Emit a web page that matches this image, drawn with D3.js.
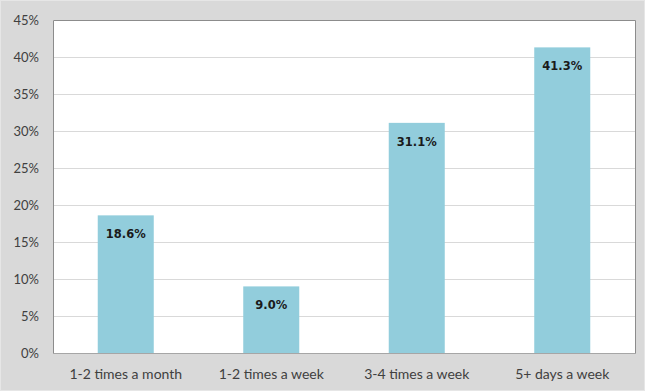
<!DOCTYPE html>
<html>
<head>
<meta charset="utf-8">
<script src="https://cdn.jsdelivr.net/npm/d3@7/dist/d3.min.js"></script>
<style>
  html, body { margin: 0; padding: 0; background: #d9d9d9; }
  svg { display: block; }
</style>
</head>
<body>
<svg id="chart" width="645" height="391"></svg>
<script>
// Share of respondents by frequency
const categories = ["1-2 times a month", "1-2 times a week", "3-4 times a week", "5+ days a week"];
const values = [18.6, 9.0, 31.1, 41.3];
const yTicks = [0, 5, 10, 15, 20, 25, 30, 35, 40, 45];

const W = 645, H = 391;
const plot = { left: 53, top: 20, right: 635, bottom: 353 };

const svg = d3.select("#chart");

// outer frame
svg.append("rect").attr("x", 0).attr("y", 0).attr("width", W).attr("height", H)
  .attr("fill", "#d9d9d9");
svg.append("rect").attr("x", 0.5).attr("y", 0.5).attr("width", W - 1).attr("height", H - 1)
  .attr("fill", "none").attr("stroke", "#e6e6e6");

const x = d3.scaleBand()
  .domain(categories)
  .range([plot.left, plot.right])
  .paddingInner(0.615)
  .paddingOuter(0.3075);

const y = d3.scaleLinear().domain([0, 45]).range([plot.bottom, plot.top]);

// plot area
svg.append("rect")
  .attr("x", plot.left).attr("y", plot.top)
  .attr("width", plot.right - plot.left).attr("height", plot.bottom - plot.top)
  .attr("fill", "#ffffff");

// gridlines
svg.append("g")
  .selectAll("line")
  .data(yTicks.filter(t => t > 0 && t < 45))
  .join("line")
  .attr("x1", plot.left).attr("x2", plot.right)
  .attr("y1", d => Math.round(y(d)) + 0.5).attr("y2", d => Math.round(y(d)) + 0.5)
  .attr("stroke", "#d9d9d9").attr("stroke-width", 1);

// bars
svg.append("g")
  .selectAll("rect")
  .data(values)
  .join("rect")
  .attr("x", (d, i) => x(categories[i]))
  .attr("y", d => y(d))
  .attr("width", x.bandwidth())
  .attr("height", d => y(0) - y(d))
  .attr("fill", "#92cddc");

// plot border
svg.append("path")
  .attr("d", `M${plot.left + 0.5},${plot.bottom + 0.5} V${plot.top + 0.5} H${plot.right + 0.5} V${plot.bottom + 0.5} Z`)
  .attr("fill", "none").attr("stroke", "#8c8c8c").attr("stroke-width", 1);
svg.append("line")
  .attr("x1", plot.left).attr("x2", plot.right + 1)
  .attr("y1", plot.bottom + 0.5).attr("y2", plot.bottom + 0.5)
  .attr("stroke", "#a6a6a6");

// value labels
svg.append("g")
  .selectAll("text")
  .data(values)
  .join("text")
  .attr("x", (d, i) => x(categories[i]) + x.bandwidth() / 2)
  .attr("y", d => y(d) + 23)
  .attr("text-anchor", "middle")
  .attr("font-family", "DejaVu Sans, Verdana, sans-serif")
  .attr("font-weight", "bold")
  .attr("font-size", "11.5px")
  .attr("fill", "#1a1a1a")
  .text(d => d.toFixed(1) + "%");

// y axis
const yAxis = d3.axisLeft(y).tickValues(yTicks).tickSize(0).tickPadding(14)
  .tickFormat(d => d + "%");
const gy = svg.append("g").attr("transform", `translate(${plot.left},0)`).call(yAxis);
gy.select(".domain").remove();
gy.selectAll("text")
  .attr("font-family", "Lato, Calibri, sans-serif")
  .attr("font-size", "13px")
  .attr("fill", "#404040");

// x axis
const xAxis = d3.axisBottom(x).tickSize(0).tickPadding(16);
const gx = svg.append("g").attr("transform", `translate(0,${plot.bottom})`).call(xAxis);
gx.select(".domain").remove();
gx.selectAll("text")
  .attr("font-family", "Lato, Calibri, sans-serif")
  .attr("font-size", "14px")
  .attr("fill", "#404040");
</script>
</body>
</html>
